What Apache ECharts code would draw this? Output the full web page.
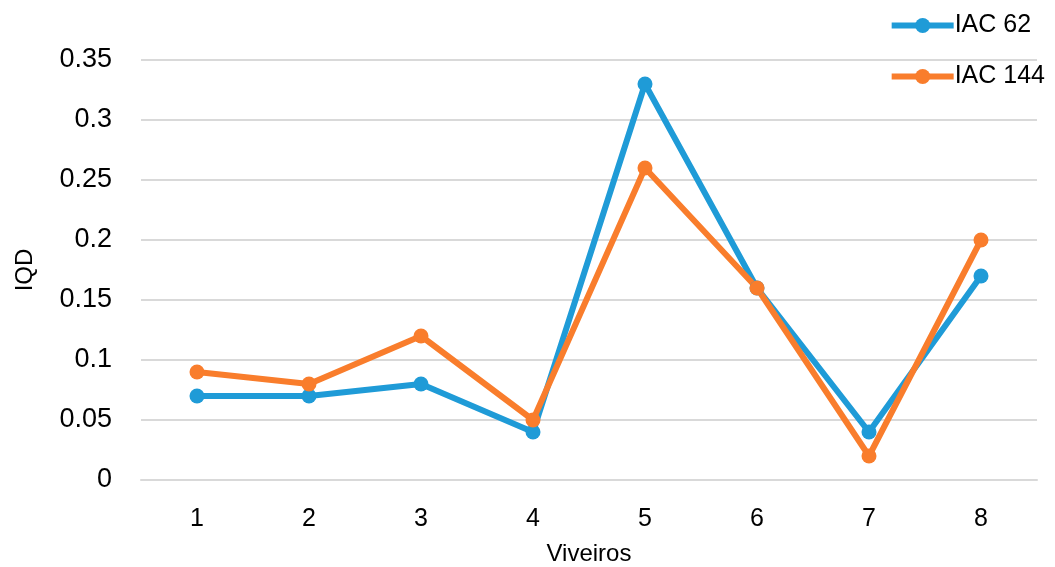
<!DOCTYPE html>
<html>
<head>
<meta charset="utf-8">
<script src="https://cdn.jsdelivr.net/npm/echarts@6/dist/echarts.min.js"></script>
<style>
  html, body { margin: 0; padding: 0; background: #fff; overflow: hidden; }
  #chart { width: 1055px; height: 567px; }
</style>
</head>
<body>
<div id="chart"></div>
<script>
// Viveiros (nurseries) on the x axis, IQD values for two clones
const categories = ['1', '2', '3', '4', '5', '6', '7', '8'];
const iac62 = [0.07, 0.07, 0.08, 0.04, 0.33, 0.16, 0.04, 0.17];
const iac144 = [0.09, 0.08, 0.12, 0.05, 0.26, 0.16, 0.02, 0.20];
const yTicks = { min: 0, max: 0.35, interval: 0.05 };

const FONT = '"Liberation Sans", Arial, sans-serif';
const BLUE = '#1f9bd7';
const ORANGE = '#f97d2c';

const chart = echarts.init(document.getElementById('chart'), null, { renderer: 'canvas' });

function lineSeries(name, data, color) {
  return {
    name: name,
    type: 'line',
    data: data,
    symbol: 'circle',
    symbolSize: 15,
    lineStyle: { width: 6, color: color },
    itemStyle: { color: color },
    emphasis: { disabled: true },
    animation: false
  };
}

chart.setOption({
  animation: false,
  grid: { left: 141, right: 18, top: 60, bottom: 87, containLabel: false, outerBoundsMode: 'none' },
  legend: {
    orient: 'vertical',
    right: 5,
    top: 8,
    itemGap: 26,
    itemWidth: 62,
    itemHeight: 19,
    lineStyle: { width: 6 },
    textStyle: { fontFamily: FONT, fontSize: 25, color: '#000', padding: [0, 0, 0, -4] },
    data: ['IAC 62', 'IAC 144']
  },
  xAxis: {
    type: 'category',
    data: categories,
    boundaryGap: true,
    name: 'Viveiros',
    nameLocation: 'middle',
    nameGap: 62,
    nameTextStyle: { fontFamily: FONT, fontSize: 24, color: '#000' },
    axisLine: { show: true, lineStyle: { color: '#d9d9d9', width: 2 } },
    axisTick: { show: false },
    axisLabel: { fontFamily: FONT, fontSize: 25, color: '#000', margin: 27 }
  },
  yAxis: {
    type: 'value',
    min: yTicks.min,
    max: yTicks.max,
    interval: yTicks.interval,
    name: 'IQD',
    nameLocation: 'middle',
    nameRotate: 90,
    nameGap: 104,
    nameTextStyle: { fontFamily: FONT, fontSize: 24, color: '#000' },
    axisLine: { show: false },
    axisTick: { show: false },
    axisLabel: { fontFamily: FONT, fontSize: 27, color: '#000', margin: 29 },
    splitLine: { show: true, lineStyle: { color: '#d9d9d9', width: 2 } }
  },
  series: [
    lineSeries('IAC 62', iac62, BLUE),
    lineSeries('IAC 144', iac144, ORANGE)
  ]
});
</script>
</body>
</html>
